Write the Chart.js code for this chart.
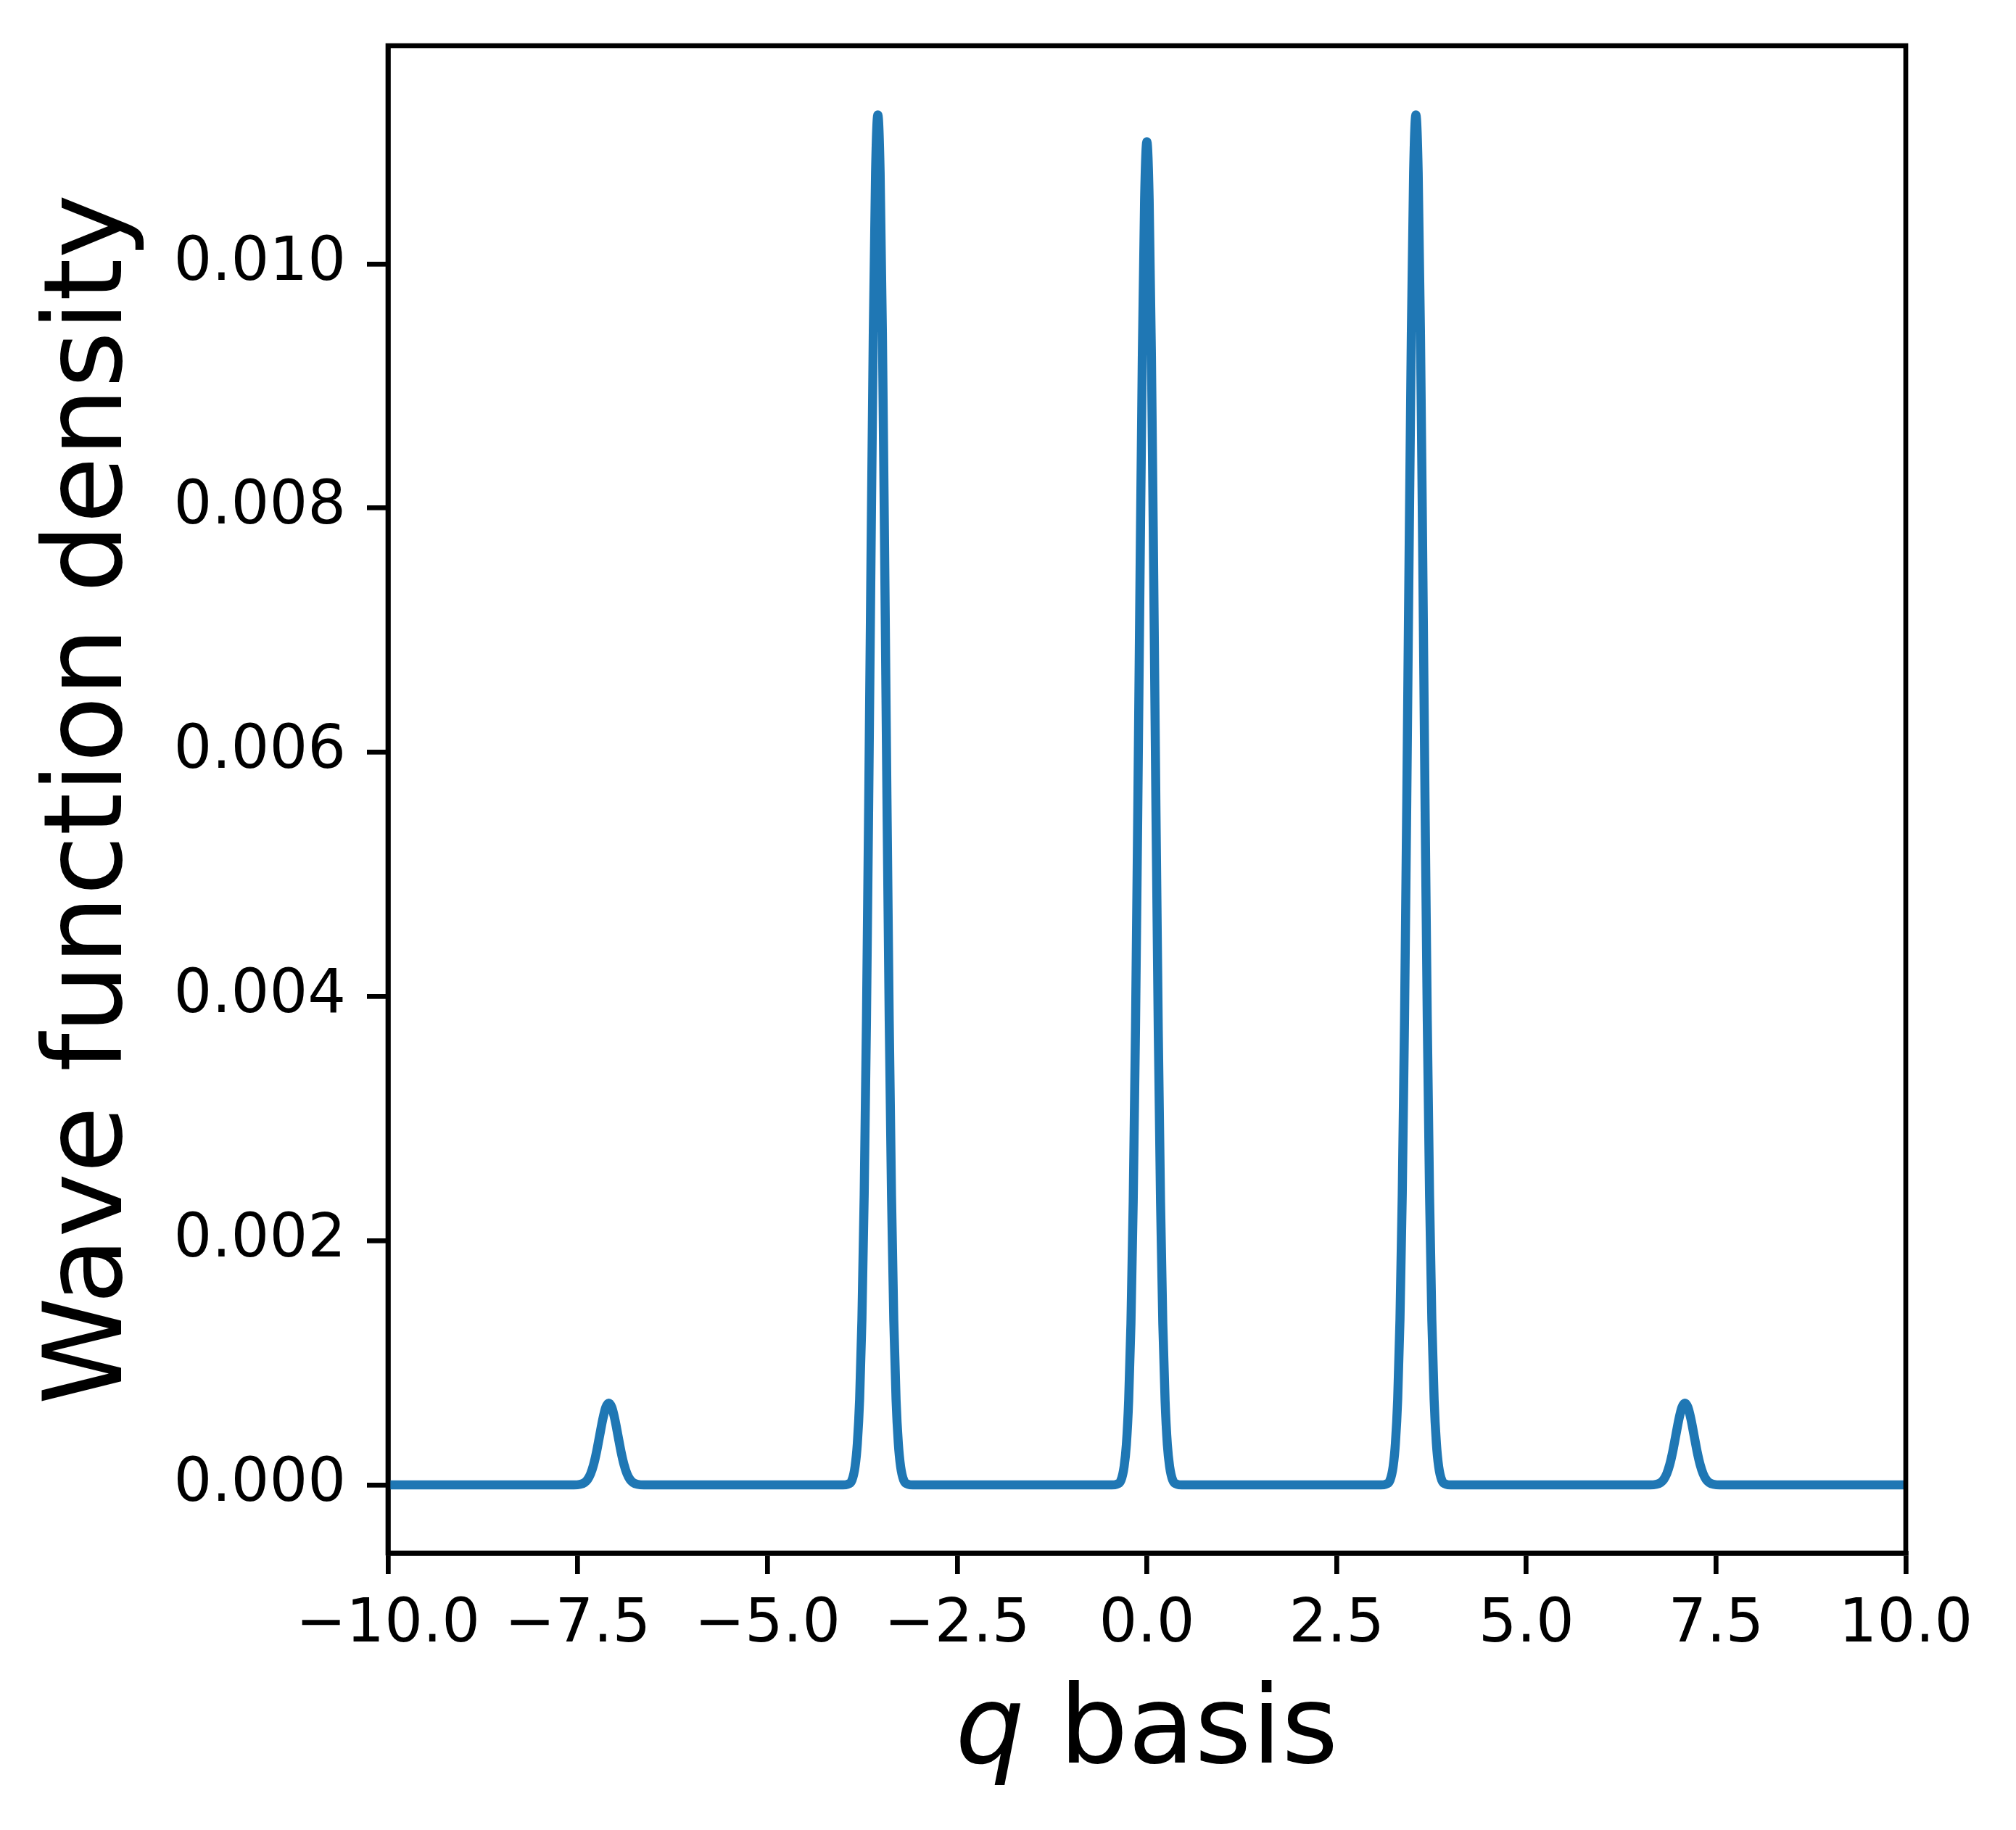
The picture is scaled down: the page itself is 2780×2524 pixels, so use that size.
<!DOCTYPE html>
<html>
<head>
<meta charset="utf-8">
<script src="https://cdn.jsdelivr.net/npm/chart.js@4.4.1/dist/chart.umd.min.js"></script>
<style>
html,body{margin:0;padding:0;background:#fff;}
#wrap{width:2780px;height:2524px;}
</style>
</head>
<body>
<div id="wrap"><canvas id="c" width="2780" height="2524"></canvas></div>
<script>
// q positions
const qValues = [
  -10,
  -7.55, -7.47, -7.41, -7.37, -7.33, -7.29, -7.25, -7.21, -7.17, -7.13, -7.09,
  -7.05, -7.01, -6.97, -6.93, -6.89, -6.85, -6.81, -6.77, -6.71, -6.63,
  -4.005, -3.945, -3.885, -3.845, -3.815, -3.785, -3.755, -3.725, -3.695, -3.665, -3.635, -3.605, -3.575, -3.545,
  -3.515, -3.485, -3.455, -3.425, -3.395, -3.365, -3.335, -3.305, -3.275, -3.245, -3.205, -3.145, -3.085,
  -0.46, -0.40, -0.34, -0.30, -0.27, -0.24, -0.21, -0.18, -0.15, -0.12, -0.09, -0.06, -0.03, 0,
  0.03, 0.06, 0.09, 0.12, 0.15, 0.18, 0.21, 0.24, 0.27, 0.30, 0.34, 0.40, 0.46,
  3.085, 3.145, 3.205, 3.245, 3.275, 3.305, 3.335, 3.365, 3.395, 3.425, 3.455, 3.485, 3.515, 3.545,
  3.575, 3.605, 3.635, 3.665, 3.695, 3.725, 3.755, 3.785, 3.815, 3.845, 3.885, 3.945, 4.005,
  6.63, 6.71, 6.77, 6.81, 6.85, 6.89, 6.93, 6.97, 7.01, 7.05, 7.09,
  7.13, 7.17, 7.21, 7.25, 7.29, 7.33, 7.37, 7.41, 7.47, 7.55,
  10
];
// wave function density values
const densityValues = [
  0,
  0, 0.0000045, 0.0000191, 0.000044, 0.0000907, 0.000167, 0.000275, 0.000406, 0.000536, 0.000634, 0.00067,
  0.000634, 0.000536, 0.000406, 0.000275, 0.000167, 0.0000907, 0.000044, 0.0000191, 0.0000045, 0,
  0, 0.000005, 0.00004, 0.00015, 0.00034, 0.00070, 0.00135, 0.00237, 0.00380, 0.00562, 0.00760, 0.00944, 0.01075, 0.01122,
  0.01075, 0.00944, 0.00760, 0.00562, 0.00380, 0.00237, 0.00135, 0.00070, 0.00034, 0.00015, 0.00004, 0.000005, 0,
  0, 0.000005, 0.00004, 0.00015, 0.00033, 0.00069, 0.00132, 0.00232, 0.00373, 0.00551, 0.00745, 0.00925, 0.01053, 0.01100,
  0.01053, 0.00925, 0.00745, 0.00551, 0.00373, 0.00232, 0.00132, 0.00069, 0.00033, 0.00015, 0.00004, 0.000005, 0,
  0, 0.000005, 0.00004, 0.00015, 0.00034, 0.00070, 0.00135, 0.00237, 0.00380, 0.00562, 0.00760, 0.00944, 0.01075, 0.01122,
  0.01075, 0.00944, 0.00760, 0.00562, 0.00380, 0.00237, 0.00135, 0.00070, 0.00034, 0.00015, 0.00004, 0.000005, 0,
  0, 0.0000045, 0.0000191, 0.000044, 0.0000907, 0.000167, 0.000275, 0.000406, 0.000536, 0.000634, 0.00067,
  0.000634, 0.000536, 0.000406, 0.000275, 0.000167, 0.0000907, 0.000044, 0.0000191, 0.0000045, 0,
  0
];
const xTickValues = [-10, -7.5, -5, -2.5, 0, 2.5, 5, 7.5, 10];
const yTickValues = [0, 0.002, 0.004, 0.006, 0.008, 0.010];
const xRange = [-10, 10];
const yRange = [-0.000558, 0.011787];
const xLabelItalic = 'q';
const xLabelRest = ' basis';
const yLabel = 'Wave function density';

const FAMILY = "'DejaVu Sans'";
const fmtX = v => (v < 0 ? '\u2212' : '') + Math.abs(v).toFixed(1);
const fmtY = v => v.toFixed(3);

const framePlugin = {
  id: 'frame',
  afterDatasetsDraw(chart) {
    const {ctx, chartArea: a} = chart;
    ctx.save();
    ctx.strokeStyle = '#000';
    ctx.lineWidth = 6.7;
    ctx.lineJoin = 'miter';
    ctx.strokeRect(a.left, a.top, a.right - a.left, a.bottom - a.top);
    ctx.restore();
  },
  afterDraw(chart) {
    const {ctx, chartArea: a} = chart;
    ctx.save();
    ctx.fillStyle = '#000';
    ctx.textBaseline = 'alphabetic';
    ctx.textAlign = 'left';
    const fi = "italic 150px " + FAMILY;
    const fn = "150px " + FAMILY;
    ctx.font = fi; const w1 = ctx.measureText(xLabelItalic).width;
    ctx.font = fn; const w2 = ctx.measureText(xLabelRest).width;
    const cx = (a.left + a.right) / 2;
    const x0 = cx - (w1 + w2) / 2;
    const y = a.bottom + 289;
    ctx.font = fi; ctx.fillText(xLabelItalic, x0, y);
    ctx.font = fn; ctx.fillText(xLabelRest, x0 + w1, y);
    ctx.restore();
  }
};

const gridOpts = {
  drawOnChartArea: false, drawTicks: true, tickLength: 29,
  tickWidth: 6.7, tickColor: '#000', color: '#000', lineWidth: 6.7
};

new Chart(document.getElementById('c'), {
  type: 'line',
  data: {
    datasets: [{
      data: qValues.map((q, i) => ({x: q, y: densityValues[i]})),
      borderColor: '#1f77b4',
      borderWidth: 12.5,
      pointRadius: 0,
      fill: false,
      cubicInterpolationMode: 'monotone',
      borderJoinStyle: 'round',
      borderCapStyle: 'butt'
    }]
  },
  options: {
    responsive: false,
    devicePixelRatio: 1,
    animation: false,
    layout: {padding: {top: 63, right: 152, left: 0, bottom: 0}},
    plugins: {legend: {display: false}, tooltip: {enabled: false}},
    scales: {
      x: {
        type: 'linear', min: xRange[0], max: xRange[1],
        afterBuildTicks: ax => { ax.ticks = xTickValues.map(v => ({value: v})); },
        afterFit: ax => { ax.height = 382; ax.paddingLeft = 0; ax.paddingRight = 0; },
        ticks: {callback: v => fmtX(v), font: {family: 'DejaVu Sans', size: 83}, color: '#000',
                padding: 22, maxRotation: 0, autoSkip: false},
        grid: gridOpts,
        border: {display: true, color: '#000', width: 6.7},
        title: {display: false}
      },
      y: {
        type: 'linear', min: yRange[0], max: yRange[1],
        afterBuildTicks: ax => { ax.ticks = yTickValues.map(v => ({value: v})); },
        afterFit: ax => { ax.width = 535; ax.paddingTop = 0; ax.paddingBottom = 0; },
        ticks: {callback: v => fmtY(v), font: {family: 'DejaVu Sans', size: 83}, color: '#000',
                padding: 29, autoSkip: false},
        grid: gridOpts,
        border: {display: true, color: '#000', width: 6.7},
        title: {display: true, text: yLabel, color: '#000',
                font: {family: 'DejaVu Sans', size: 150, lineHeight: 1.2},
                padding: {top: 38, bottom: 0}}
      }
    }
  },
  plugins: [framePlugin]
});
</script>
</body>
</html>
